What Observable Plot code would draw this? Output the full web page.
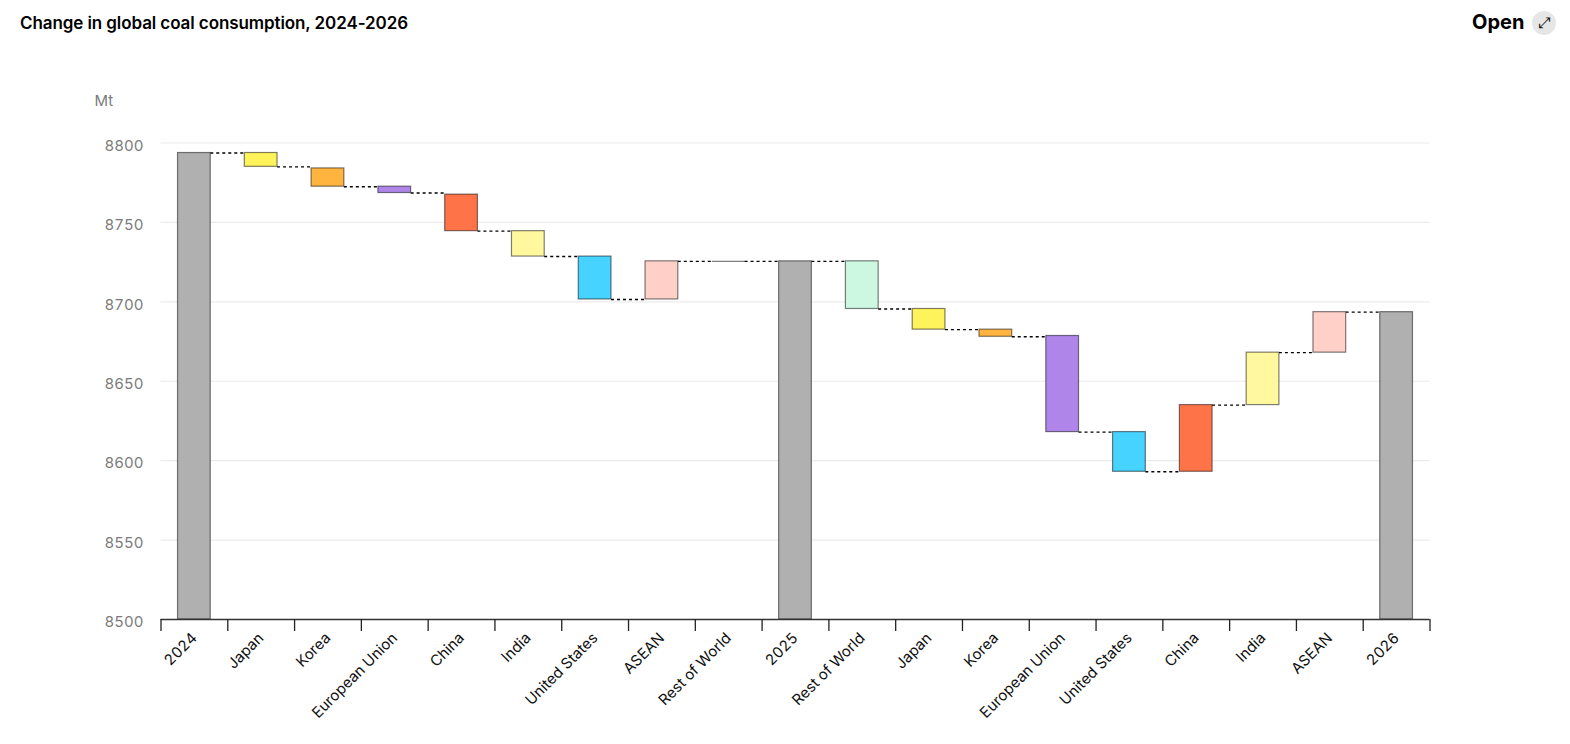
<!DOCTYPE html>
<html>
<head>
<meta charset="utf-8">
<script src="https://cdn.jsdelivr.net/npm/d3@7"></script>
<script src="https://cdn.jsdelivr.net/npm/@observablehq/plot@0.6"></script>
<style>
html,body{margin:0;padding:0;background:#fff;overflow:hidden;font-family:Inter,sans-serif;}
#head{position:relative;height:60px;}
#title{position:absolute;left:20px;top:12px;font-size:17px;font-weight:600;color:#000;line-height:22px;letter-spacing:-0.09px;}
#open{position:absolute;left:1472px;top:10px;font-size:20px;font-weight:700;color:#000;line-height:24px;}
#icon{position:absolute;left:1532px;top:11px;width:24px;height:24px;border-radius:50%;background:#e6e6e6;color:#111;font:15px/24px "DejaVu Sans",sans-serif;text-align:center;}
svg{display:block;}
</style>
</head>
<body>
<div id="head">
  <div id="title">Change in global coal consumption, 2024-2026</div>
  <div id="open">Open</div>
  <div id="icon">⤢</div>
</div>
<div id="chart"></div>
<script>
const categories = ["2024","Japan","Korea","European Union","China","India","United States","ASEAN","Rest of World","2025","Rest of World","Japan","Korea","European Union","United States","China","India","ASEAN","2026"];
const starts = [8500,8793.7,8784,8772.5,8767.5,8744.5,8728.5,8701.5,8725.5,8500,8725.5,8695.5,8682.5,8678.5,8618,8593,8635,8668,8500];
const ends   = [8793.7,8785,8772.5,8768.5,8744.5,8728.5,8701.5,8725.5,8725.5,8725.5,8695.5,8682.5,8678,8618,8593,8635,8668,8693.5,8693.5];
const colors = ["#b0b0b0","#fff35c","#ffb43f","#b085ea","#ff7349","#fff89f","#47d3ff","#ffd0c8","#b0b0b0","#b0b0b0","#ccf8e2","#fff35c","#ffb43f","#b085ea","#47d3ff","#ff7349","#fff89f","#ffd0c8","#b0b0b0"];
const yTicks = [8500,8550,8600,8650,8700,8750,8800];

const bars = categories.map((name,i)=>({name,i,start:starts[i],end:ends[i],color:colors[i]}));
const links = bars.slice(0,-1).map((b,i)=>({i,level:b.end}));
const flat = bars.filter(b=>b.start===b.end);
const edgeTicks = d3.range(categories.length+1);
const labelTicks = categories.map((_,i)=>i+0.5);

const plot = Plot.plot({
  width:1570,
  height:684,
  marginLeft:160.5,
  marginRight:140.5,
  marginTop:82.5,
  marginBottom:125,
  style:{fontFamily:"Inter, sans-serif",background:"#fff"},
  x:{type:"linear",domain:[0,categories.length]},
  y:{domain:[8500,8800]},
  marks:[
    Plot.ruleY(yTicks.slice(1),{stroke:"#ebebeb",strokeWidth:1.2}),
    Plot.axisY({ticks:yTicks,tickSize:0,tickPadding:17.5,label:null,fontSize:15,color:"#7b7b7b",dy:3,tickFormat:d=>String(d)}),
    Plot.text(["Mt"],{frameAnchor:"top-left",dx:-66.5,dy:-48,fontSize:15,fill:"#7b7b7b",textAnchor:"start"}),
    Plot.ruleY(links,{y:"level",x1:d=>d.i+0.745,x2:d=>d.i+1.255,stroke:"#000",strokeWidth:1.4,strokeDasharray:"3 3"}),
    Plot.rectY(bars,{x1:d=>d.i+0.255,x2:d=>d.i+0.745,y1:"start",y2:"end",fill:"color",stroke:"#000",strokeOpacity:0.5,strokeWidth:1.2}),
    Plot.ruleY(flat,{y:"end",x1:d=>d.i+0.255,x2:d=>d.i+0.745,stroke:"#000",strokeOpacity:0.5,strokeWidth:1.2}),
    Plot.ruleY([8500],{stroke:"#333",strokeWidth:1.4}),
    Plot.axisX({ticks:edgeTicks,tickSize:12,tickFormat:()=>"",label:null,stroke:"#222",strokeWidth:1.3}),
    Plot.axisX({ticks:labelTicks,tickSize:0,tickPadding:16,tickRotate:-45,label:null,fontSize:15,color:"#111",tickFormat:d=>categories[Math.floor(d)],textOverflow:null})
  ]
});
document.getElementById("chart").appendChild(plot);
</script>
</body>
</html>
